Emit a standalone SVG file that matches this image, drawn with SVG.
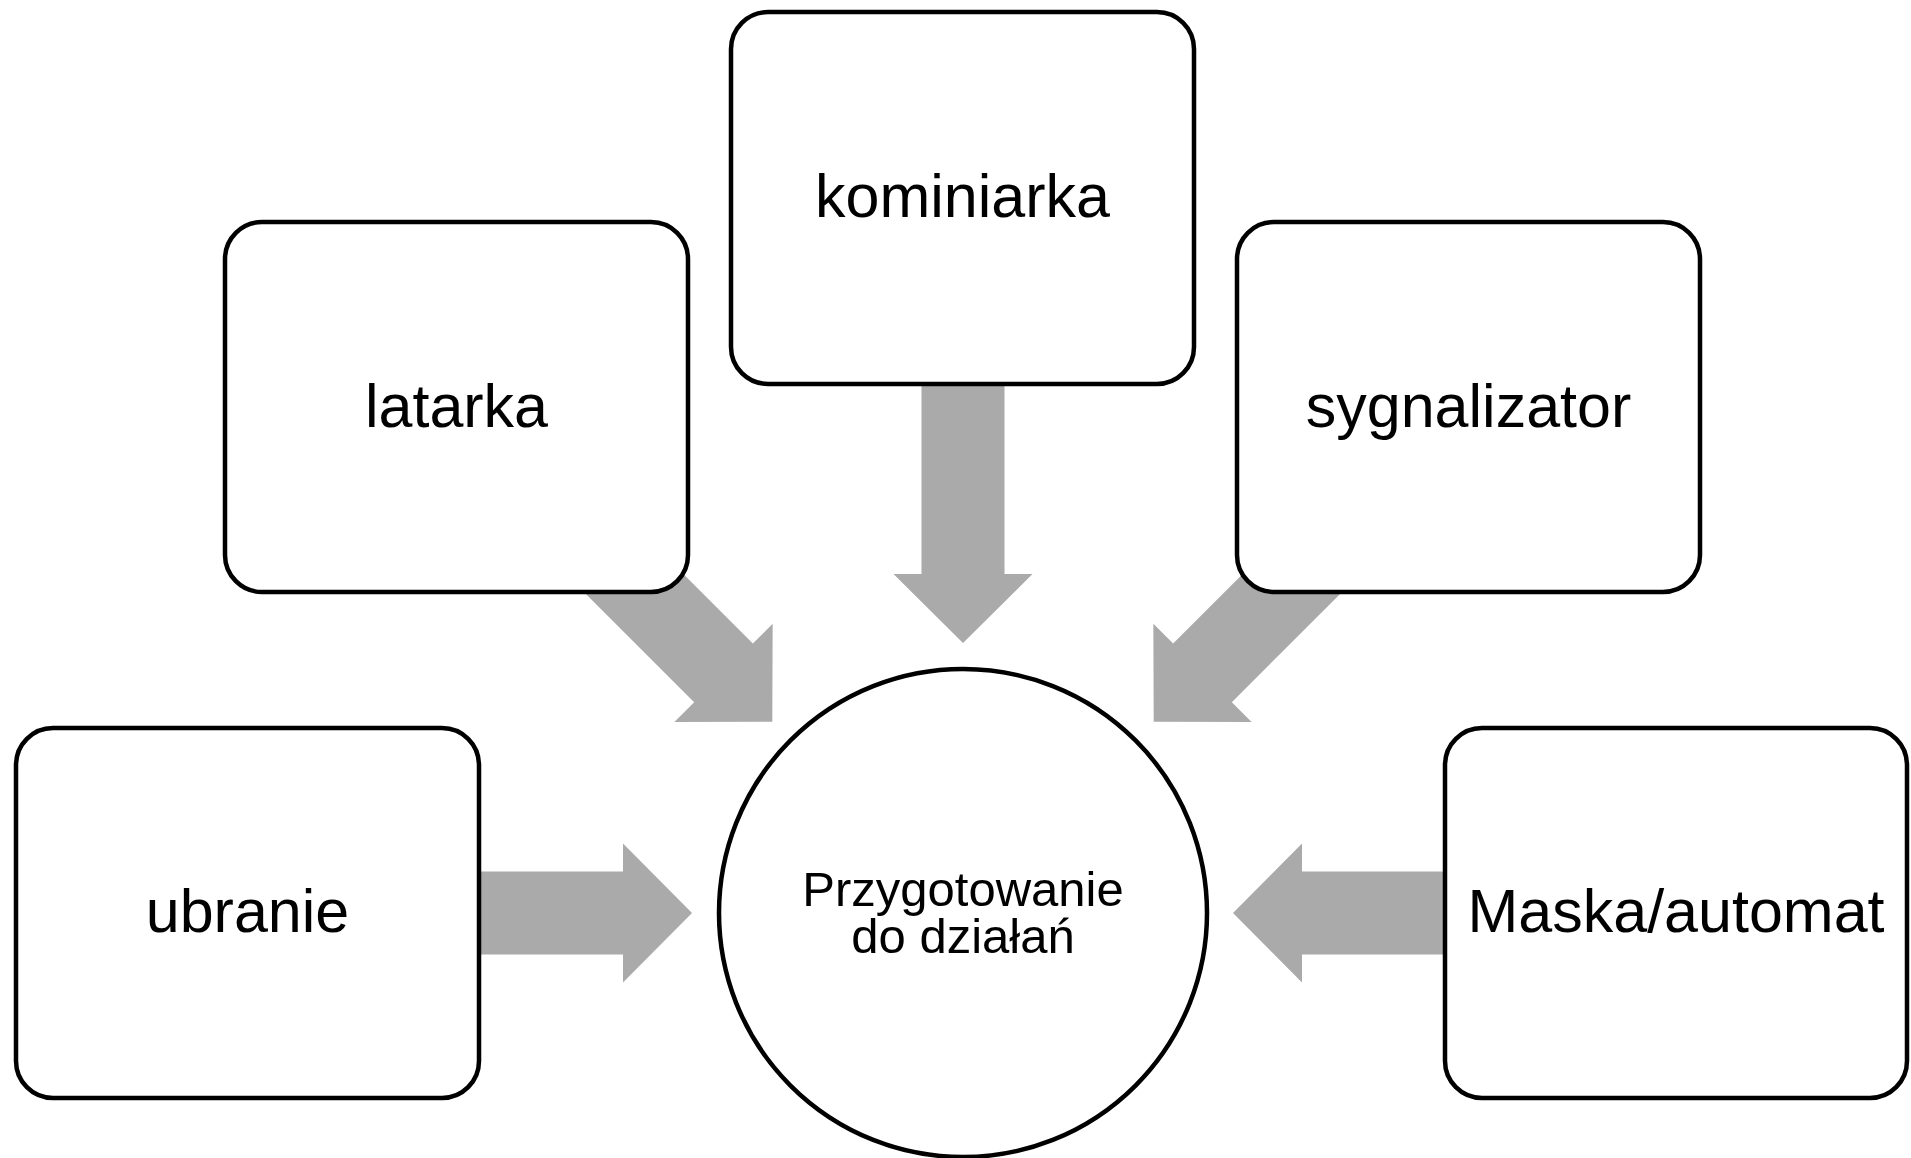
<svg xmlns="http://www.w3.org/2000/svg" xmlns:xlink="http://www.w3.org/1999/xlink" width="1911" height="1158" viewBox="0 0 1911 1158">
<style>
.box{fill:#ffffff;stroke:#000000;stroke-width:4.5}
.arr{fill:#aaaaaa}
.lbl{font-family:"Liberation Sans",Arial,sans-serif;font-size:61px;fill:#000000;text-anchor:middle}
.ctr{font-family:"Liberation Sans",Arial,sans-serif;font-size:49px;fill:#000000;text-anchor:middle}
</style>
<defs>
<polygon id="arrow" points="-300,-41.5 -69,-41.5 -69,-69.5 0,0 -69,69.5 -69,41.5 -300,41.5"/>
</defs>
<rect width="1911" height="1158" fill="#ffffff"/>
<g id="connectors" class="arr">
<use xlink:href="#arrow" href="#arrow" transform="translate(963,643) rotate(90)"/>
<use xlink:href="#arrow" href="#arrow" transform="translate(772.3,721.7) rotate(45)"/>
<use xlink:href="#arrow" href="#arrow" transform="translate(1153.7,721.7) rotate(135)"/>
<use xlink:href="#arrow" href="#arrow" transform="translate(692,913)"/>
<use xlink:href="#arrow" href="#arrow" transform="translate(1233,913) rotate(180)"/>
</g>
<g id="node-kominiarka">
<rect class="box" x="731" y="12" width="463" height="372" rx="37" ry="37"/>
<text class="lbl" x="962.5" y="217">kominiarka</text>
</g>
<g id="node-latarka">
<rect class="box" x="225" y="222" width="463" height="370" rx="37" ry="37"/>
<text class="lbl" x="456.5" y="427">latarka</text>
</g>
<g id="node-sygnalizator">
<rect class="box" x="1237" y="222" width="463" height="370" rx="37" ry="37"/>
<text class="lbl" x="1468.5" y="427">sygnalizator</text>
</g>
<g id="node-ubranie">
<rect class="box" x="16" y="728" width="463" height="370" rx="37" ry="37"/>
<text class="lbl" x="247.5" y="932">ubranie</text>
</g>
<g id="node-maska">
<rect class="box" x="1445" y="728" width="462" height="370" rx="37" ry="37"/>
<text class="lbl" x="1676" y="932">Maska/automat</text>
</g>
<g id="node-center">
<circle class="box" cx="963" cy="913" r="244"/>
<text class="ctr" x="963" y="906"><tspan x="963" y="906">Przygotowanie</tspan><tspan x="963" y="953">do działań</tspan></text>
</g>
</svg>
